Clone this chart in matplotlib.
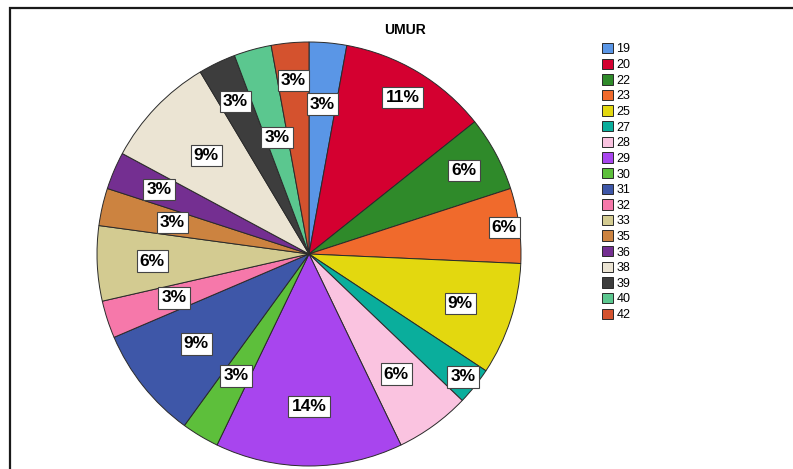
import matplotlib.pyplot as plt
import numpy as np
from matplotlib.patches import Rectangle

# UMUR (usia responden) - jumlah responden per usia
umur = ['19', '20', '22', '23', '25', '27', '28', '29', '30',
        '31', '32', '33', '35', '36', '38', '39', '40', '42']
jumlah = [1, 4, 2, 2, 3, 1, 2, 5, 1, 3, 1, 2, 1, 1, 3, 1, 1, 1]

warna = ['#5a96e6', '#d40030', '#2f8a2a', '#f06a2c', '#e3d80f', '#0aae9c',
         '#fac3e0', '#a845ee', '#5dbf3b', '#3e57a8', '#f678aa', '#d3cb91',
         '#cc8340', '#742f91', '#ebe4d3', '#3d3d3d', '#5bc78f', '#d4522e']

# jarak label dari pusat (fraksi jari-jari), supaya label tidak bertumpuk
jarak_label = [0.71, 0.86, 0.83, 0.93, 0.75, 0.93, 0.70, 0.72, 0.67,
               0.68, 0.67, 0.74, 0.66, 0.77, 0.67, 0.80, 0.57, 0.82]

W, H = 793, 469
fig = plt.figure(figsize=(W / 100, H / 100), dpi=100)
plt.rcParams['font.family'] = ['Liberation Sans', 'DejaVu Sans']

# pusat pie di (309, 254) px, jari-jari 212 px
cx, cy, R = 309, 254, 212
ax = fig.add_axes([0, 0, 1, 1])

wedges, _ = ax.pie(jumlah, colors=warna, startangle=90, counterclock=False,
                   radius=1, wedgeprops=dict(edgecolor='#2a2a2a', linewidth=0.7))

ax.set_aspect('auto')
ax.set_xlim(-cx / R, (W - cx) / R)
ax.set_ylim(-(H - cy) / R, cy / R)
ax.axis('off')

total = sum(jumlah)
kum = np.cumsum(jumlah) - np.array(jumlah) / 2
for i, n in enumerate(jumlah):
    sudut = np.deg2rad(90 - kum[i] / total * 360)
    r = jarak_label[i]
    persen = round(n / total * 100)
    ax.text(r * np.cos(sudut), r * np.sin(sudut), f'{persen}%',
            ha='center', va='center', fontsize=12.5, fontweight='bold',
            bbox=dict(boxstyle='square,pad=0.18', fc='white', ec='#444444', lw=0.8))

fig.text(405 / W, 1 - 30 / H, 'UMUR', ha='center', va='center',
         fontsize=10, fontweight='bold')

ax.legend(wedges, umur, loc='upper left', bbox_to_anchor=(602 / W, 1 - 43 / H),
          frameon=False, fontsize=9, handlelength=0.9, handleheight=0.9,
          handletextpad=0.25, labelspacing=0.25, borderaxespad=0,
          borderpad=0)

# bingkai luar
fig.patches.append(Rectangle((10 / W, -0.1), 1.1, 1 - 8 / H + 0.1,
                             transform=fig.transFigure, fill=False,
                             edgecolor='#1a1a1a', linewidth=1.6))

plt.savefig('out.png', dpi=100)
